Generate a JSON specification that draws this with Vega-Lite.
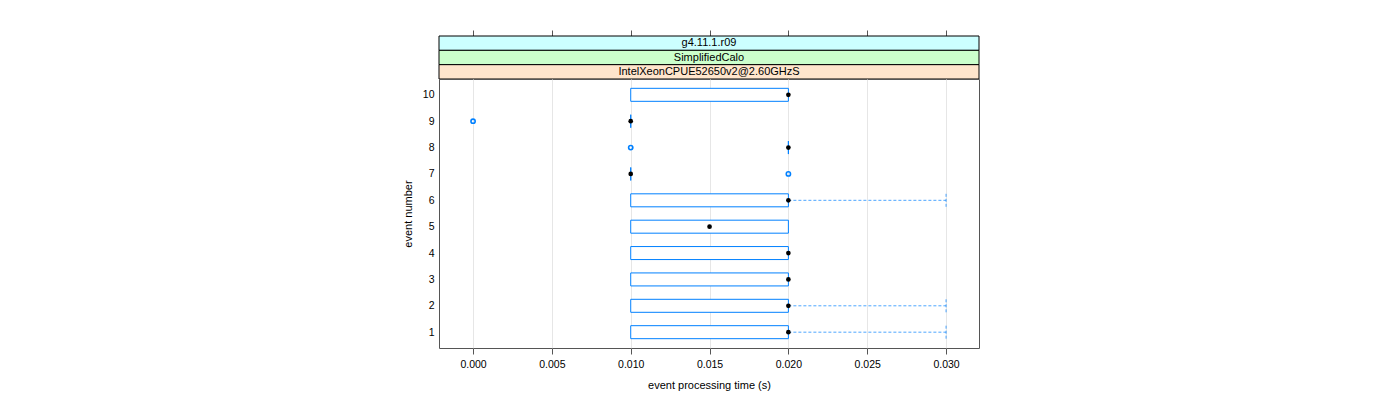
{
  "$schema": "https://vega.github.io/schema/vega-lite/v6.json",
  "background": "white",
  "padding": {"left": 401, "top": 29, "right": 5, "bottom": 5},
  "spacing": 0,
  "bounds": "flush",
  "config": {
    "font": "Liberation Sans",
    "view": {"stroke": "#555555", "strokeWidth": 1},
    "concat": {"spacing": 0},
    "axis": {"labelFont": "Liberation Sans", "titleFont": "Liberation Sans", "labelColor": "black", "titleColor": "black", "titleFontWeight": "normal", "tickColor": "#555555"}
  },
  "datasets": {
    "strips": [
      {"label": "g4.11.1.r09", "level": "3"},
      {"label": "SimplifiedCalo", "level": "2"},
      {"label": "IntelXeonCPUE52650v2@2.60GHzS", "level": "1"}
    ],
    "ticks": [
      {"t": 0.0}, {"t": 0.005}, {"t": 0.01}, {"t": 0.015}, {"t": 0.02}, {"t": 0.025}, {"t": 0.03}
    ],
    "stats": [
      {"event": 10, "q1": 0.01, "med": 0.02, "q3": 0.02, "whi": 0.02},
      {"event": 9, "q1": 0.01, "med": 0.01, "q3": 0.01, "whi": 0.01},
      {"event": 8, "q1": 0.02, "med": 0.02, "q3": 0.02, "whi": 0.02},
      {"event": 7, "q1": 0.01, "med": 0.01, "q3": 0.01, "whi": 0.01},
      {"event": 6, "q1": 0.01, "med": 0.02, "q3": 0.02, "whi": 0.03},
      {"event": 5, "q1": 0.01, "med": 0.015, "q3": 0.02, "whi": 0.02},
      {"event": 4, "q1": 0.01, "med": 0.02, "q3": 0.02, "whi": 0.02},
      {"event": 3, "q1": 0.01, "med": 0.02, "q3": 0.02, "whi": 0.02},
      {"event": 2, "q1": 0.01, "med": 0.02, "q3": 0.02, "whi": 0.03},
      {"event": 1, "q1": 0.01, "med": 0.02, "q3": 0.02, "whi": 0.03}
    ],
    "outliers": [
      {"event": 9, "time": 0.0},
      {"event": 8, "time": 0.01},
      {"event": 7, "time": 0.02}
    ]
  },
  "vconcat": [
    {
      "width": 540,
      "height": 43,
      "view": {"stroke": null},
      "layer": [
        {
          "data": {"name": "ticks"},
          "mark": {"type": "rule", "opacity": 0},
          "encoding": {
            "x": {
              "field": "t", "type": "quantitative",
              "scale": {"domain": [-0.00216, 0.03209], "nice": false, "zero": false, "padding": 0},
              "axis": {"orient": "top", "values": [0, 0.005, 0.01, 0.015, 0.02, 0.025, 0.03], "labels": false, "ticks": true, "tickSize": 6, "domain": false, "grid": false, "title": null}
            }
          }
        },
        {
          "data": {"name": "strips"},
          "mark": {"type": "rect", "x": 0, "x2": "width", "stroke": "black", "strokeWidth": 1},
          "encoding": {
            "y": {"field": "label", "type": "nominal", "sort": ["g4.11.1.r09", "SimplifiedCalo", "IntelXeonCPUE52650v2@2.60GHzS"], "scale": {"paddingInner": 0, "paddingOuter": 0}, "axis": null},
            "fill": {"field": "level", "type": "nominal", "scale": {"domain": ["1", "2", "3"], "range": ["#ffe5cc", "#ccffcc", "#ccffff"]}, "legend": null}
          }
        },
        {
          "data": {"name": "strips"},
          "mark": {"type": "text", "x": {"expr": "width/2"}, "fontSize": 11, "color": "black", "baseline": "middle", "align": "center"},
          "encoding": {
            "y": {"field": "label", "type": "nominal", "sort": ["g4.11.1.r09", "SimplifiedCalo", "IntelXeonCPUE52650v2@2.60GHzS"], "scale": {"paddingInner": 0, "paddingOuter": 0}, "axis": null},
            "text": {"field": "label"}
          }
        }
      ]
    },
    {
      "width": 540,
      "height": 269,
      "data": {"name": "stats"},
      "encoding": {
        "y": {
          "field": "event", "type": "quantitative",
          "scale": {"domain": [0.4, 10.6], "nice": false, "zero": false, "padding": 0},
          "axis": {"values": [1, 2, 3, 4, 5, 6, 7, 8, 9, 10], "ticks": false, "domain": false, "grid": false, "labelFontSize": 10.5, "labelPadding": 5, "title": "event number", "titleFontSize": 11, "titlePadding": 9}
        }
      },
      "layer": [
        {
          "transform": [{"filter": "datum.whi > datum.q3"}],
          "mark": {"type": "rule", "color": "#0080ff", "strokeDash": [3, 2], "strokeWidth": 1, "opacity": 0.7},
          "encoding": {
            "x": {
              "field": "q3", "type": "quantitative",
              "scale": {"domain": [-0.00216, 0.03209], "nice": false, "zero": false, "padding": 0},
              "axis": {"values": [0, 0.005, 0.01, 0.015, 0.02, 0.025, 0.03], "format": ".3f", "tickSize": 6, "domain": false, "grid": true, "gridColor": "#e6e6e6", "gridWidth": 1, "labelFontSize": 10.5, "labelPadding": 5, "title": "event processing time (s)", "titleFontSize": 11, "titlePadding": 10}
            },
            "x2": {"field": "whi"}
          }
        },
        {
          "transform": [{"filter": "datum.whi > datum.q3"}],
          "mark": {"type": "point", "shape": "M0,-1L0,1", "size": 169, "filled": false, "color": "#0080ff", "strokeDash": [3, 2], "strokeWidth": 1, "opacity": 0.7},
          "encoding": {
            "x": {"field": "whi", "type": "quantitative"}
          }
        },
        {
          "mark": {"type": "bar", "size": 13, "fill": "white", "stroke": "#0080ff", "strokeWidth": 1},
          "encoding": {
            "x": {"field": "q1", "type": "quantitative"},
            "x2": {"field": "q3"}
          }
        },
        {
          "mark": {"type": "point", "shape": "circle", "filled": true, "color": "black", "size": 22, "opacity": 1},
          "encoding": {
            "x": {"field": "med", "type": "quantitative"}
          }
        },
        {
          "data": {"name": "outliers"},
          "mark": {"type": "point", "shape": "circle", "filled": false, "color": "#0080ff", "size": 18, "strokeWidth": 1.6, "opacity": 1},
          "encoding": {
            "x": {"field": "time", "type": "quantitative"},
            "y": {"field": "event", "type": "quantitative"}
          }
        }
      ]
    }
  ]
}
